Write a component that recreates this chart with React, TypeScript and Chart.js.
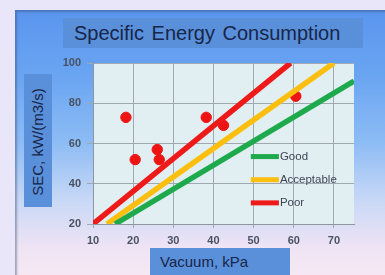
import React, { useEffect, useRef } from "react";
import { Chart, registerables } from "chart.js";

Chart.register(...registerables);

const chartTitle = "Specific Energy Consumption";
const xAxisTitle = "Vacuum, kPa";
const yAxisTitle = "SEC, kW/(m3/s)";

const xTicks = [10, 20, 30, 40, 50, 60, 70];
const yTicks = [20, 40, 60, 80, 100];

const goodX = [15.5, 75];
const goodY = [20, 91];
const acceptableX = [13.5, 70];
const acceptableY = [20, 100];
const poorX = [10, 59.2];
const poorY = [20, 100];

const measuredX = [18.2, 20.5, 26, 26.5, 38.2, 42.5, 60.5];
const measuredY = [73, 52, 57, 52, 73, 69, 83.5];

const legendLabels = ["Good", "Acceptable", "Poor"];
const lineColors = ["#1eaa4c", "#fcbf10", "#ee1a1a"];

const toPts = (xs: number[], ys: number[]) => xs.map((x, i) => ({ x, y: ys[i] }));

const gridCol = "#a0a9b2";

const bgPlugin = {
  id: "plotBg",
  beforeDraw(chart: any) {
    const { ctx, chartArea } = chart;
    ctx.save();
    ctx.fillStyle = "#e1eff2";
    ctx.fillRect(chartArea.left, chartArea.top, chartArea.right - chartArea.left, chartArea.bottom - chartArea.top);
    ctx.restore();
  },
};

const legendPlugin = {
  id: "innerLegend",
  afterDatasetsDraw(chart: any) {
    const { ctx } = chart;
    const xs = chart.scales.x;
    const ys = chart.scales.y;
    const x0 = xs.getPixelForValue(49.3);
    const x1 = xs.getPixelForValue(56.3);
    const rows = [53.5, 42, 30.5];
    ctx.save();
    legendLabels.forEach((lab, i) => {
      const y = ys.getPixelForValue(rows[i]);
      ctx.strokeStyle = lineColors[i];
      ctx.lineWidth = 5;
      ctx.lineCap = "butt";
      ctx.beginPath();
      ctx.moveTo(x0, y);
      ctx.lineTo(x1, y);
      ctx.stroke();
      ctx.fillStyle = "#3e4654";
      ctx.font = "11.5px 'Liberation Sans', Arial, sans-serif";
      ctx.textBaseline = "middle";
      ctx.textAlign = "left";
      ctx.fillText(lab, x1 + 1, y);
    });
    ctx.restore();
  },
};

const onTick = (v: number) => xTicks.includes(v);

export default function App() {
  const ref = useRef<HTMLCanvasElement | null>(null);

  useEffect(() => {
    if (!ref.current) return;
    const chart = new Chart(ref.current, {
      type: "scatter",
      data: {
        datasets: [
          {
            type: "line",
            label: legendLabels[0],
            data: toPts(goodX, goodY),
            borderColor: lineColors[0],
            borderWidth: 5.5,
            pointRadius: 0,
            clip: 0,
          } as any,
          {
            type: "line",
            label: legendLabels[1],
            data: toPts(acceptableX, acceptableY),
            borderColor: lineColors[1],
            borderWidth: 5.5,
            pointRadius: 0,
            clip: 0,
          } as any,
          {
            type: "line",
            label: legendLabels[2],
            data: toPts(poorX, poorY),
            borderColor: lineColors[2],
            borderWidth: 5.5,
            pointRadius: 0,
            clip: 0,
          } as any,
          {
            type: "scatter",
            label: "Measured",
            data: toPts(measuredX, measuredY),
            backgroundColor: "#ee1414",
            borderColor: "#ee1414",
            pointRadius: 5.2,
            pointHoverRadius: 5.2,
          } as any,
        ],
      },
      options: {
        responsive: false,
        animation: false,
        layout: { padding: { top: 63, right: 31, left: 0, bottom: 0 } },
        plugins: {
          legend: { display: false },
          title: { display: false },
          tooltip: { enabled: false },
        },
        scales: {
          x: {
            type: "linear",
            min: 10,
            max: 75,
            afterFit: (s: any) => {
              s.height = 51;
            },
            grid: {
              color: (c: any) => (c.tick && onTick(c.tick.value) ? gridCol : "rgba(0,0,0,0)"),
              tickColor: (c: any) => (c.tick && onTick(c.tick.value) ? gridCol : "rgba(0,0,0,0)"),
              tickLength: 4,
              drawTicks: true,
            },
            border: { color: "#8e969e" },
            ticks: {
              stepSize: 10,
              includeBounds: false,
              color: "#4a5262",
              padding: 6,
              font: { family: "'Liberation Sans', Arial, sans-serif", size: 11, weight: "bold" },
              maxRotation: 0,
              autoSkip: false,
              callback: (v: any) => (onTick(Number(v)) ? String(v) : ""),
            },
          },
          y: {
            type: "linear",
            min: 20,
            max: 100,
            afterFit: (s: any) => {
              s.width = 93;
            },
            grid: { color: gridCol, tickLength: 6, drawTicks: true },
            border: { color: "#8e969e" },
            ticks: {
              stepSize: 20,
              color: "#4a5262",
              padding: 6,
              font: { family: "'Liberation Sans', Arial, sans-serif", size: 11, weight: "bold" },
              callback: (v: any) => (yTicks.includes(Number(v)) ? String(v) : ""),
            },
          },
        },
      },
      plugins: [bgPlugin, legendPlugin],
    });
    return () => chart.destroy();
  }, []);

  const boxBg = "#5a8fd9";
  const textCol = "#17264a";

  return (
    <div
      style={{
        position: "fixed",
        left: 0,
        top: 0,
        width: 385,
        height: 275,
        background: "#e8e6f8",
        overflow: "hidden",
        fontFamily: "'Liberation Sans', Arial, sans-serif",
      }}
    >
      <div
        style={{
          position: "absolute",
          left: 15,
          top: 10,
          width: 370,
          height: 265,
          background:
            "linear-gradient(180deg, #5a95ef 0%, #6aa5f2 25%, #8dbcf5 50%, #c8d8f6 72%, #efe4f4 90%, #f5e8f4 100%)",
          boxShadow: "inset 2px 2px 2px rgba(60,80,120,0.45)",
        }}
      />
      <div
        style={{
          position: "absolute",
          left: 63,
          top: 18,
          width: 300,
          height: 30,
          background: boxBg,
          color: textCol,
          fontSize: 20,
          lineHeight: "30px",
          paddingLeft: 11,
          boxSizing: "border-box",
          textAlign: "left",
          wordSpacing: 2,
          whiteSpace: "nowrap",
        }}
      >
        {chartTitle}
      </div>
      <div
        style={{
          position: "absolute",
          left: 24,
          top: 74,
          width: 28,
          height: 133,
          background: boxBg,
        }}
      >
        <div
          style={{
            position: "absolute",
            left: 14,
            top: 68,
            transform: "translate(-50%, -50%) rotate(-90deg)",
            whiteSpace: "nowrap",
            color: textCol,
            fontSize: 15,
            lineHeight: "16px",
          }}
        >
          {yAxisTitle}
        </div>
      </div>
      <div
        style={{
          position: "absolute",
          left: 150,
          top: 248,
          width: 140,
          height: 27,
          background: boxBg,
          color: textCol,
          fontSize: 15,
          lineHeight: "27px",
          paddingLeft: 10,
          boxSizing: "border-box",
          textAlign: "left",
        }}
      >
        {xAxisTitle}
      </div>
      <canvas
        ref={ref}
        width={385}
        height={275}
        style={{ position: "absolute", left: 0, top: 0, width: 385, height: 275 }}
      />
    </div>
  );
}
